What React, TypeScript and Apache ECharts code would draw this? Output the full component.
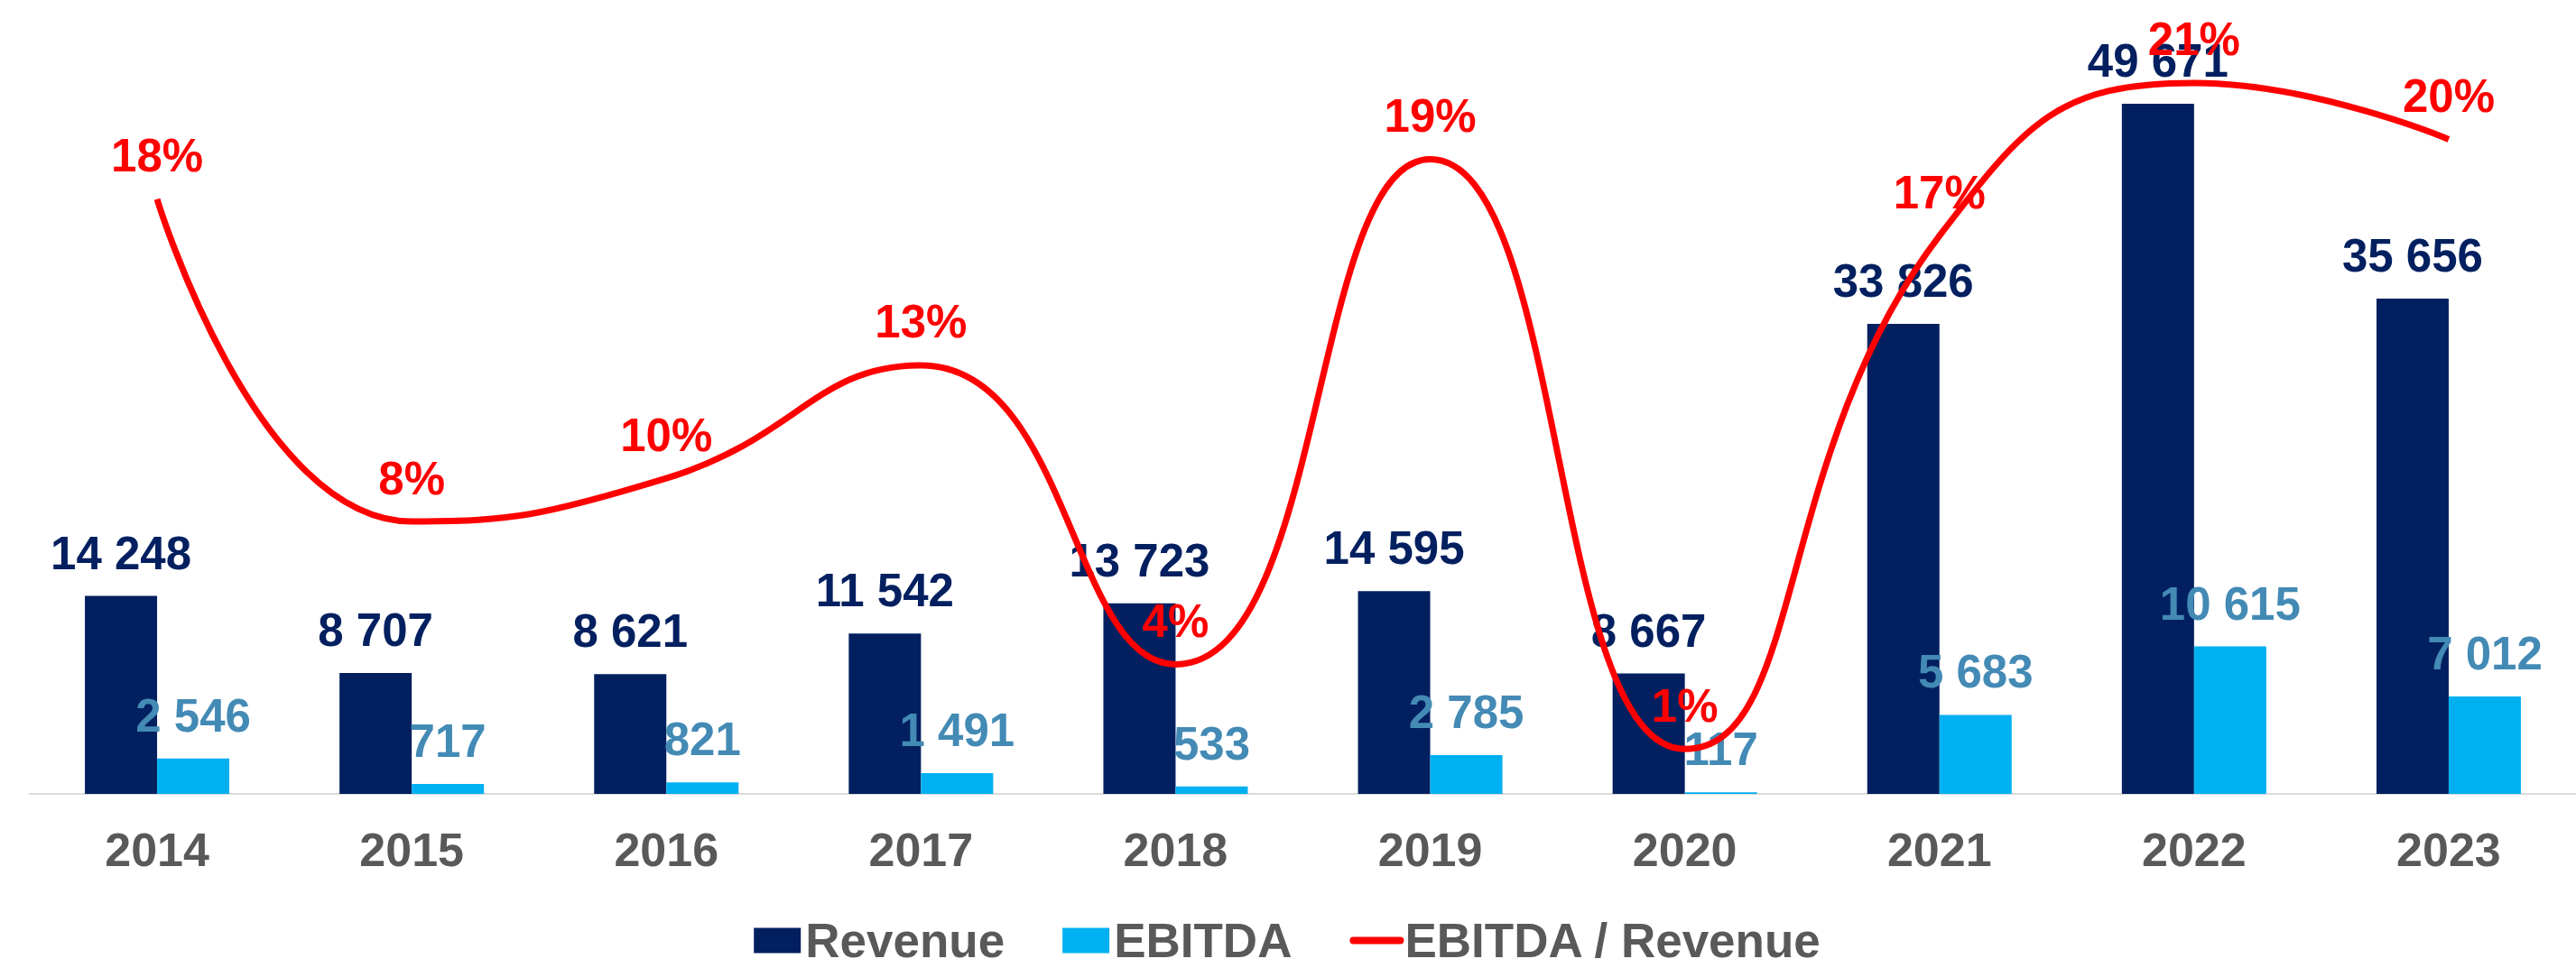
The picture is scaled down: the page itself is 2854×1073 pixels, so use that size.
import React, { useEffect, useRef } from "react";
import * as echarts from "echarts";

const years = ["2014", "2015", "2016", "2017", "2018", "2019", "2020", "2021", "2022", "2023"];
const revenue = [14248, 8707, 8621, 11542, 13723, 14595, 8667, 33826, 49671, 35656];
const ebitda = [2546, 717, 821, 1491, 533, 2785, 117, 5683, 10615, 7012];
const marginPct = [17.9, 8.2, 9.5, 12.9, 3.9, 19.1, 1.35, 16.8, 21.4, 19.7];

const FONT = "'Liberation Sans', Arial, sans-serif";

const fmtNum = (v: number) => String(v).replace(/\B(?=(\d{3})+(?!\d))/g, " ");

export default function App() {
  const ref = useRef<HTMLDivElement>(null);
  useEffect(() => {
    if (!ref.current) return;
    const chart = echarts.init(ref.current, undefined, { renderer: "svg" });
    chart.setOption({
      animation: false,
      backgroundColor: "#ffffff",
      textStyle: { fontFamily: FONT },
      grid: { left: 33, top: 33, width: 2844, height: 847, containLabel: false },
      legend: {
        top: 1011,
        left: "center",
        itemWidth: 52,
        itemHeight: 28,
        itemGap: 64,
        textStyle: { color: "#595959", fontSize: 53, fontWeight: "bold", fontFamily: FONT },
        data: [
          { name: "Revenue", icon: "rect" },
          { name: "EBITDA", icon: "rect" },
          {
            name: "EBITDA / Revenue",
            lineStyle: { width: 8, color: "#FF0000", cap: "round" },
            itemStyle: { color: "transparent", borderWidth: 0 },
          },
        ],
      },
      xAxis: {
        type: "category",
        data: years,
        axisLine: { lineStyle: { color: "#d9d9d9", width: 2 } },
        axisTick: { show: false },
        axisLabel: { color: "#595959", fontSize: 52, fontWeight: "bold", margin: 36, fontFamily: FONT },
      },
      yAxis: [
        { type: "value", min: 0, max: 55000, show: false },
        { type: "value", min: 0, max: 23, show: false },
      ],
      series: [
        {
          name: "Revenue",
          type: "bar",
          data: revenue,
          barWidth: 80,
          barGap: "0%",
          itemStyle: { color: "#022060" },
          label: {
            show: true,
            position: "top",
            distance: 22,
            color: "#022060",
            fontSize: 51,
            fontWeight: "bold",
            fontFamily: FONT,
            formatter: (p: any) => fmtNum(p.value),
          },
        },
        {
          name: "EBITDA",
          type: "bar",
          data: ebitda,
          barWidth: 80,
          barGap: "0%",
          itemStyle: { color: "#00B0F0" },
          label: {
            show: true,
            position: "top",
            distance: 22,
            color: "#438AB5",
            fontSize: 51,
            fontWeight: "bold",
            fontFamily: FONT,
            formatter: (p: any) => fmtNum(p.value),
          },
        },
        {
          name: "EBITDA / Revenue",
          type: "line",
          yAxisIndex: 1,
          data: marginPct,
          smooth: 0.5,
          symbol: "circle",
          symbolSize: 1,
          showSymbol: true,
          lineStyle: { color: "#FF0000", width: 7 },
          itemStyle: { color: "transparent", borderWidth: 0 },
          z: 5,
          label: {
            show: true,
            position: "top",
            distance: 22,
            color: "#FF0000",
            fontSize: 51,
            fontWeight: "bold",
            fontFamily: FONT,
            formatter: (p: any) => Math.round(p.value) + "%",
          },
        },
      ],
    });
    return () => chart.dispose();
  }, []);
  return (
    <div
      ref={ref}
      style={{ position: "absolute", left: 0, top: 0, width: 2854, height: 1073, background: "#fff" }}
    />
  );
}
